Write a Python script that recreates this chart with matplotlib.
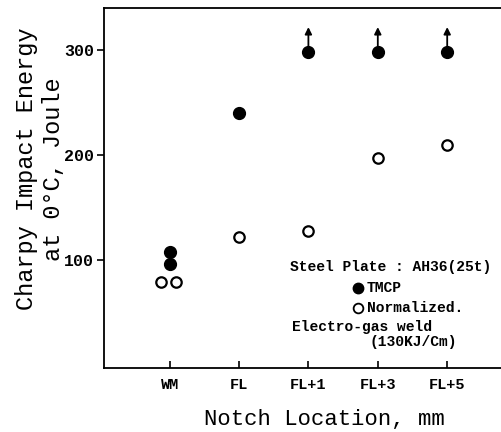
import matplotlib
matplotlib.use('Agg')
import matplotlib.pyplot as plt

locations = ['WM', 'FL', 'FL+1', 'FL+3', 'FL+5']

tmcp_loc = ['WM', 'WM', 'FL', 'FL+1', 'FL+3', 'FL+5']
tmcp_energy = [108, 96, 240, 298, 298, 298]
tmcp_above = [False, False, False, True, True, True]  # lower bound, specimen did not break

norm_loc = ['WM', 'WM', 'FL', 'FL+1', 'FL+3', 'FL+5']
norm_energy = [79, 79, 122, 128, 197, 210]
norm_shift = [-0.13, 0.09, 0, 0, 0, 0]  # side-by-side at WM

yticks = [100, 200, 300]

mono = 'Liberation Mono'

fig = plt.figure(figsize=(5.01, 4.32), dpi=100)
ax = fig.add_axes([0.2076, 0.148, 0.80, 0.833])

pos = {name: i + 1 for i, name in enumerate(locations)}

tx = [pos[n] for n in tmcp_loc]
ax.plot(tx, tmcp_energy, 'o', color='black', markersize=8.5, zorder=3)
for x, y, up in zip(tx, tmcp_energy, tmcp_above):
    if up:
        ax.annotate('', xy=(x, y + 24), xytext=(x, y),
                    arrowprops=dict(arrowstyle='-|>', color='black', lw=1.3,
                                    mutation_scale=10, shrinkA=0, shrinkB=0))

nx = [pos[n] + s for n, s in zip(norm_loc, norm_shift)]
ax.plot(nx, norm_energy, 'o', markerfacecolor='white', markeredgecolor='black',
        markeredgewidth=1.6, markersize=7.5, zorder=3)

ax.set_xlim(0.055, 5.83)
ax.set_ylim(-3, 340)
ax.set_xticks(range(1, len(locations) + 1))
ax.set_xticklabels(locations, fontfamily=mono, fontweight='bold', fontsize=11)
ax.set_yticks(yticks)
ax.set_yticklabels([str(v) for v in yticks], fontfamily=mono, fontweight='bold', fontsize=12)
ax.tick_params(axis='x', direction='in', length=5, width=1.2, pad=7)
ax.tick_params(axis='y', direction='out', length=5, width=1.2, pad=2)
for s in ['left', 'bottom', 'top']:
    ax.spines[s].set_linewidth(1.3)
ax.spines['right'].set_visible(False)

fig.text(0.647, 0.016, 'Notch Location, mm', fontfamily=mono, fontsize=16,
         ha='center', va='baseline')
fig.text(0.08, 0.609, 'Charpy Impact Energy\nat 0\u00b0C, Joule', fontfamily=mono,
         fontsize=17, rotation=90, ha='center', va='center', linespacing=1.25,
         multialignment='center')

# legend block drawn as text
lab = dict(fontfamily=mono, fontweight='bold', fontsize=10.5, va='center')
ax.text(2.73, 93, 'Steel Plate : AH36(25t)', **lab)
ax.plot([3.72], [73], 'o', color='black', markersize=7.5)
ax.text(3.84, 73, 'TMCP', **lab)
ax.plot([3.72], [54], 'o', markerfacecolor='white', markeredgecolor='black',
        markeredgewidth=1.3, markersize=7)
ax.text(3.84, 54, 'Normalized.', **lab)
ax.text(2.76, 36, 'Electro-gas weld', **lab)
ax.text(3.88, 22, '(130KJ/Cm)', **lab)

fig.savefig('out.png', dpi=100)
